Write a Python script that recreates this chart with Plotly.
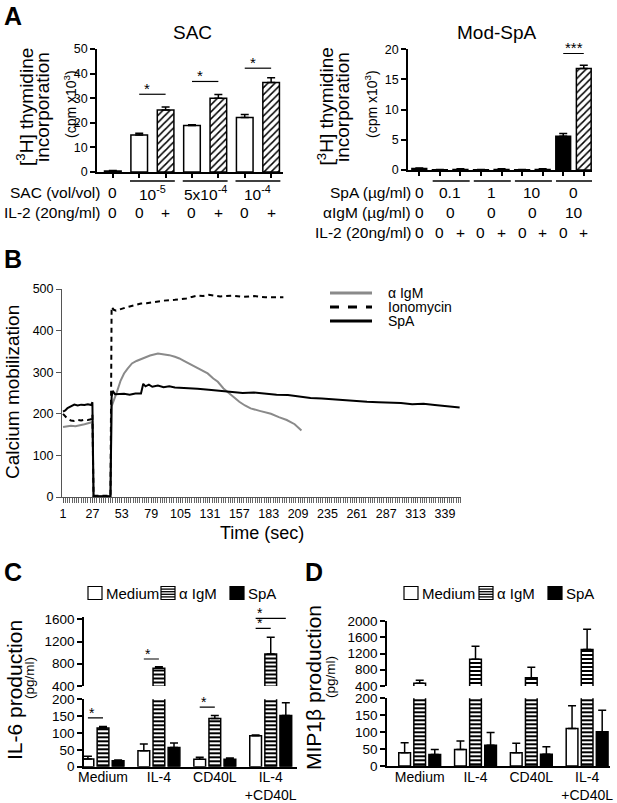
import plotly.graph_objects as go

W, H = 617, 803
FONT = "Arial, 'Liberation Sans', Helvetica, sans-serif"

def px(x):
    return x / W

def py(y):
    return 1 - y / H

# ---------------- Panel A data ----------------
sac_conc_labels = ["0", "10<sup>-5</sup>", "5x10<sup>-4</sup>", "10<sup>-4</sup>"]
sac_il2_labels = ["0", "0", "+", "0", "+", "0", "+"]
sac_values = [0.4, 15.0, 25.2, 18.9, 30.0, 22.2, 36.4]
sac_errors = [0.2, 0.8, 1.2, 0.3, 1.5, 1.2, 1.9]
sac_sig_levels = [31.6, 36.8, 42.2]

spa_conc_labels = ["0", "0.1", "1", "10", "0"]
spa_aigm_labels = ["0", "0", "0", "0", "10"]
spa_il2_labels = ["0", "0", "+", "0", "+", "0", "+", "0", "+"]
spa_values = [0.25, 0.05, 0.1, 0.05, 0.1, 0.05, 0.1, 5.6, 16.8]
spa_errors = [0.1, 0.05, 0.1, 0.05, 0.1, 0.05, 0.1, 0.45, 0.55]
spa_sig_level = 19.3

# ---------------- Panel B data ----------------
time_ticks = [1, 27, 53, 79, 105, 131, 157, 183, 209, 235, 261, 287, 313, 339]
aigm_t = [1, 4, 8, 12, 16, 20, 24, 27, 28, 30, 35, 40, 43, 44, 46, 49, 52, 55, 58, 62, 66,
          72, 78, 85, 90, 95, 100, 104, 108, 112, 118, 124, 129, 134, 138, 143, 150, 157,
          162, 167, 175, 185, 192, 199, 206, 212]
aigm_ca = [168, 170, 171, 170, 172, 175, 178, 180, 2, 2, 2, 2, 2, 218, 232, 255, 280, 297,
           308, 321, 327, 333, 340, 345, 343, 341, 337, 333, 327, 321, 313, 305, 297, 285,
           277, 261, 245, 229, 220, 213, 207, 200, 192, 185, 175, 160]
iono_t = [1, 3, 5, 8, 11, 14, 17, 20, 23, 26, 27, 28, 30, 35, 40, 43, 44, 46, 48, 52, 56,
          60, 65, 70, 75, 80, 90, 100, 110, 115, 120, 125, 130, 140, 150, 160, 170, 180,
          190, 196]
iono_ca = [200, 195, 188, 184, 183, 185, 184, 186, 185, 187, 198, 3, 3, 3, 3, 3, 457, 450,
           448, 452, 455, 458, 462, 465, 466, 468, 472, 474, 477, 481, 484, 483, 486, 482,
           484, 481, 483, 480, 481, 480]
spa_t = [1, 3, 5, 8, 11, 14, 17, 20, 23, 26, 27, 28, 30, 35, 40, 43, 44, 45, 47, 50, 55,
         60, 65, 70, 71, 72, 74, 77, 80, 85, 90, 95, 100, 110, 120, 130, 140, 150, 160, 170,
         180, 190, 200, 210, 220, 230, 240, 250, 260, 270, 280, 290, 300, 310, 320, 330,
         340, 350, 352]
spa_ca = [205, 208, 214, 219, 222, 220, 222, 221, 223, 221, 228, 2, 2, 2, 2, 2, 240, 255,
          247, 247, 248, 246, 249, 249, 258, 272, 266, 270, 265, 268, 264, 266, 263, 262,
          260, 258, 255, 253, 250, 251, 248, 246, 245, 241, 238, 237, 235, 232, 231, 229,
          228, 227, 226, 223, 224, 221, 219, 217, 215]

# ---------------- Panels C / D data ----------------
stim_groups = ["Medium", "IL-4", "CD40L", "IL-4<br>+CD40L"]
il6_medium = [23, 47, 22, 92]
il6_medium_err = [8, 20, 6, 2]
il6_aigm = [115, 718, 143, 976]
il6_aigm_err = [4, 30, 9, 300]
il6_spa = [18, 57, 22, 152]
il6_spa_err = [2, 13, 4, 38]

mip_medium = [39, 49, 39, 111]
mip_medium_err = [30, 25, 28, 67]
mip_aigm = [470, 1060, 600, 1300]
mip_aigm_err = [70, 320, 260, 500]
mip_spa = [34, 61, 35, 101]
mip_spa_err = [15, 38, 22, 64]

# significance in C: (group, from_series, to_series, level, part)
il6_sig = [(0, 0, 1, 145, "lower"), (1, 0, 1, 886, "upper"), (2, 0, 1, 177, "lower"),
           (3, 0, 1, 1438, "upper"), (3, 0, 2, 1618, "upper")]

fig = go.Figure()
shapes = []
annots = []

def ann(x, y, text, size=14, xanchor="center", yanchor="middle", xref="paper", yref="paper",
        angle=0, color="black", yshift=0):
    annots.append(dict(x=x, y=y, text=text, xref=xref, yref=yref, showarrow=False,
                       xanchor=xanchor, yanchor=yanchor, textangle=angle, yshift=yshift,
                       font=dict(size=size, color=color, family=FONT)))

def err(vals):
    return dict(type="data", array=vals, arrayminus=[0] * len(vals), symmetric=False,
                color="black", thickness=1.5, width=4)

HATCH = dict(shape="/", fgcolor="black", bgcolor="white", size=5, solidity=0.3)

# ---------- Panel A: SAC (split by IL-2) ----------
sac_x = list(range(len(sac_values)))
for flag in ("0", "+"):
    idx = [i for i, s in enumerate(sac_il2_labels) if s == flag]
    mk = dict(color="white", line=dict(color="black", width=1.5))
    if flag == "+":
        mk["pattern"] = HATCH
    fig.add_trace(go.Bar(
        x=[sac_x[i] for i in idx], y=[sac_values[i] for i in idx], width=0.63,
        xaxis="x", yaxis="y", marker=mk,
        error_y=err([sac_errors[i] for i in idx]), showlegend=False))

# ---------- Panel A: Mod-SpA (split by IL-2) ----------
spa_x = list(range(len(spa_values)))
aigm_per_bar = [spa_aigm_labels[0]] + [l for l in spa_aigm_labels[1:] for _ in (0, 1)]
for flag in ("0", "+"):
    idx = [i for i, s in enumerate(spa_il2_labels) if s == flag]
    if flag == "+":
        mk = dict(color="white", line=dict(color="black", width=1.5), pattern=HATCH)
    else:
        mk = dict(color=["black" if aigm_per_bar[i] == "10" else "white" for i in idx],
                  line=dict(color="black", width=1.5))
    fig.add_trace(go.Bar(
        x=[spa_x[i] for i in idx], y=[spa_values[i] for i in idx], width=0.72,
        xaxis="x2", yaxis="y2", marker=mk,
        error_y=err([spa_errors[i] for i in idx]), showlegend=False))

# ---------- Panel B ----------
fig.add_trace(go.Scatter(x=aigm_t, y=aigm_ca, mode="lines", xaxis="x3", yaxis="y3",
                         line=dict(color="#8a8a8a", width=2), showlegend=False))
fig.add_trace(go.Scatter(x=iono_t, y=iono_ca, mode="lines", xaxis="x3", yaxis="y3",
                         line=dict(color="black", width=2, dash="5px,4px"), showlegend=False))
fig.add_trace(go.Scatter(x=spa_t, y=spa_ca, mode="lines", xaxis="x3", yaxis="y3",
                         line=dict(color="black", width=2), showlegend=False))

# ---------- Panels C / D ----------
offsets = [-0.27, 0.0, 0.27]
styles = [
    dict(color="white", line=dict(color="black", width=1.5)),
    dict(color="white", line=dict(color="black", width=1.5),
         pattern=dict(shape="-", fgcolor="black", bgcolor="white", size=4, solidity=0.5)),
    dict(color="black", line=dict(color="black", width=1.5)),
]

def add_broken(series, errs, xa_low, ya_low, xa_up, ya_up):
    for s, (vals, e) in enumerate(zip(series, errs)):
        xs = [i + offsets[s] for i in range(len(vals))]
        for xa, ya in ((xa_low, ya_low), (xa_up, ya_up)):
            fig.add_trace(go.Bar(x=xs, y=vals, width=0.21, xaxis=xa, yaxis=ya,
                                 marker=styles[s], error_y=err(e), showlegend=False))

add_broken([il6_medium, il6_aigm, il6_spa], [il6_medium_err, il6_aigm_err, il6_spa_err],
           "x4", "y4", "x5", "y5")
add_broken([mip_medium, mip_aigm, mip_spa], [mip_medium_err, mip_aigm_err, mip_spa_err],
           "x6", "y6", "x7", "y7")

# ---------- axes ----------
def dom_x(a, b):
    return [px(a), px(b)]

def dom_y(p0, p1):
    return [py(p0), py(p1)]

base = dict(showline=True, linecolor="black", linewidth=1.5, showgrid=False, zeroline=False,
            ticks="outside", ticklen=5, tickwidth=1.5, tickcolor="black", automargin=False,
            tickfont=dict(size=12.5, family=FONT, color="black"))
cd_tick = dict(size=13.5, family=FONT, color="black")
cd_xtick = dict(size=14, family=FONT, color="black")

fig.update_layout(
    xaxis=dict(base, domain=dom_x(97, 283), range=[-0.6, 6.45], tickvals=sac_x,
               showticklabels=False, ticklen=4, anchor="y"),
    yaxis=dict(base, domain=dom_y(172, 49), range=[0, 50], tickvals=[0, 10, 20, 30, 40, 50],
               anchor="x"),
    xaxis2=dict(base, domain=dom_x(408, 592), range=[-0.55, 8.4], tickvals=spa_x,
                showticklabels=False, ticklen=4, anchor="y2"),
    yaxis2=dict(base, domain=dom_y(170, 49.3), range=[0, 20], tickvals=[0, 5, 10, 15, 20],
                anchor="x2"),
    xaxis3=dict(base, domain=dom_x(62, 461), range=[0.1, 353.2], tickvals=time_ticks,
                linecolor="#555", linewidth=1, tickcolor="#555", tickwidth=1, ticklen=5,
                tickfont=dict(size=12.5, family=FONT, color="black"),
                minor=dict(tickmode="linear", tick0=1, dtick=2, ticks="outside", ticklen=5,
                           tickwidth=1, tickcolor="#666"),
                anchor="y3"),
    yaxis3=dict(base, domain=dom_y(497, 289), range=[0, 500],
                tickvals=[0, 100, 200, 300, 400, 500], linecolor="#555", linewidth=1,
                tickcolor="#555", tickwidth=1, tickfont=dict(size=12.5, family=FONT, color="black"),
                anchor="x3"),
    xaxis4=dict(base, domain=dom_x(84, 297), range=[-0.34, 3.47], tickvals=[0, 1, 2, 3],
                ticktext=stim_groups, ticks="", tickfont=cd_xtick, ticklabelstandoff=-3,
                anchor="y4"),
    yaxis4=dict(base, domain=dom_y(766.7, 699.3), range=[0, 200],
                tickvals=[0, 50, 100, 150, 200], tickfont=cd_tick, anchor="x4"),
    xaxis5=dict(domain=dom_x(84, 297), range=[-0.34, 3.47], visible=False, anchor="y5",
                automargin=False),
    yaxis5=dict(base, domain=dom_y(686, 616.5), range=[400, 1650],
                tickvals=[400, 800, 1200, 1600], tickfont=cd_tick, anchor="x5"),
    xaxis6=dict(base, domain=dom_x(387, 610), range=[-0.586, 3.41], tickvals=[0, 1, 2, 3],
                ticktext=stim_groups, ticks="", tickfont=cd_xtick, ticklabelstandoff=-3,
                anchor="y6"),
    yaxis6=dict(base, domain=dom_y(766, 698.3), range=[0, 200],
                tickvals=[0, 50, 100, 150, 200], tickfont=cd_tick, anchor="x6"),
    xaxis7=dict(domain=dom_x(387, 610), range=[-0.586, 3.41], visible=False, anchor="y7",
                automargin=False),
    yaxis7=dict(base, domain=dom_y(686, 621), range=[400, 2000],
                tickvals=[400, 800, 1200, 1600, 2000], tickfont=cd_tick, anchor="x7"),
)

# ---------- Panel A annotations ----------
ann(px(2), py(0), "<b>A</b>", size=25, xanchor="left", yanchor="top")
ann(px(192), py(33), "SAC", size=19)
ann(px(497), py(33), "Mod-SpA", size=19)
for x1, x2, x3 in ((25, 43, 70), (325.5, 343, 371)):
    ann(px(x1), py(107), "[<sup>3</sup>H] thymidine", size=19, angle=-90)
    ann(px(x2), py(107), "incorporation", size=19, angle=-90)
    ann(px(x3), py(104), "(cpm x10<sup>3</sup>)", size=14, angle=-90)

# SAC significance
for k, lvl in enumerate(sac_sig_levels):
    i = 1 + 2 * k
    shapes.append(dict(type="line", xref="x", yref="y", x0=i, x1=i + 1, y0=lvl, y1=lvl,
                       line=dict(color="black", width=1.2)))
    ann(i + 0.3, lvl, "*", size=15, xref="x", yref="y", yanchor="middle", yshift=6)
# SAC brackets and rows
for k in range(3):
    i = 1 + 2 * k
    shapes.append(dict(type="line", xref="x", yref="paper", x0=i - 0.35, x1=i + 1.35,
                       y0=py(181), y1=py(181), line=dict(color="black", width=1.5)))
ann(px(102), py(193), "SAC (vol/vol)", size=15.5, xanchor="right")
ann(px(102), py(213), "IL-2 (20ng/ml)", size=15.5, xanchor="right")
sac_conc_pos = [0, 1.5, 3.5, 5.5]
for xv, t in zip(sac_conc_pos, sac_conc_labels):
    ann(xv, py(193), t, size=15.5, xref="x")
for xv, t in zip(sac_x, sac_il2_labels):
    ann(xv, py(213), t, size=15.5, xref="x")

# Mod-SpA significance
shapes.append(dict(type="line", xref="x2", yref="y2", x0=7, x1=8, y0=spa_sig_level,
                   y1=spa_sig_level, line=dict(color="black", width=1.2)))
ann(7.5, spa_sig_level, "***", size=15, xref="x2", yref="y2", yanchor="middle", yshift=6)
for k in range(4):
    i = 1 + 2 * k
    shapes.append(dict(type="line", xref="x2", yref="paper", x0=i - 0.35, x1=i + 1.45,
                       y0=py(181), y1=py(181), line=dict(color="black", width=1.5)))
ann(px(413), py(193), "SpA (µg/ml)", size=15.5, xanchor="right")
ann(px(413), py(213), "αIgM (µg/ml)", size=15.5, xanchor="right")
ann(px(413), py(232), "IL-2 (20ng/ml)", size=15.5, xanchor="right")
spa_group_pos = [0, 1.5, 3.5, 5.5, 7.5]
for xv, t in zip(spa_group_pos, spa_conc_labels):
    ann(xv, py(193), t, size=15.5, xref="x2")
for xv, t in zip(spa_group_pos, spa_aigm_labels):
    ann(xv, py(213), t, size=15.5, xref="x2")
for xv, t in zip(spa_x, spa_il2_labels):
    ann(xv, py(232), t, size=15.5, xref="x2")

# ---------- Panel B annotations ----------
ann(px(2), py(243), "<b>B</b>", size=25, xanchor="left", yanchor="top")
ann(px(13), py(392), "Calcium mobilization", size=19, angle=-90)
ann(px(262), py(533), "Time (sec)", size=18)
leg_b = [("α IgM", "#8a8a8a", "solid", 293), ("Ionomycin", "black", "dash", 307),
         ("SpA", "black", "solid", 321)]
for name, col, dash, yy in leg_b:
    shapes.append(dict(type="line", xref="paper", yref="paper", x0=px(330), x1=px(372),
                       y0=py(yy), y1=py(yy), line=dict(color=col, width=3, dash=dash)))
    ann(px(386), py(yy), name, size=14, xanchor="left")

# ---------- Panels C / D annotations ----------
ann(px(2), py(556), "<b>C</b>", size=25, xanchor="left", yanchor="top")
ann(px(303), py(556), "<b>D</b>", size=25, xanchor="left", yanchor="top")
ann(px(14), py(690), "IL-6 production", size=21, angle=-90)
ann(px(29), py(678), "(pg/ml)", size=13.5, angle=-90)
ann(px(313), py(688), "MIP1β production", size=21, angle=-90)
ann(px(330), py(677), "(pg/ml)", size=13.5, angle=-90)

def legend_row(x_white, x_stripe, x_black, y_c):
    bw, bh = 14, 13
    for kind, x0, label in (("white", x_white, "Medium"), ("stripe", x_stripe, "α IgM"),
                            ("black", x_black, "SpA")):
        shapes.append(dict(type="rect", xref="paper", yref="paper", x0=px(x0), x1=px(x0 + bw),
                           y0=py(y_c + bh / 2), y1=py(y_c - bh / 2),
                           fillcolor="black" if kind == "black" else "white",
                           line=dict(color="black", width=1.2)))
        if kind == "stripe":
            for j in range(1, 5):
                yy = y_c - bh / 2 + j * bh / 5
                shapes.append(dict(type="line", xref="paper", yref="paper", x0=px(x0),
                                   x1=px(x0 + bw), y0=py(yy), y1=py(yy),
                                   line=dict(color="black", width=1.3)))
        ann(px(x0 + bw + 2), py(y_c), label, size=15, xanchor="left")

legend_row(88, 161, 230, 593)
legend_row(404, 479, 548, 593)

for g, s0, s1, lvl, part in il6_sig:
    xr, yr = ("x4", "y4") if part == "lower" else ("x5", "y5")
    xa0 = g + offsets[s0]
    xa1 = g + offsets[s1]
    shapes.append(dict(type="line", xref=xr, yref=yr, x0=xa0, x1=xa1, y0=lvl, y1=lvl,
                       line=dict(color="black", width=1.2)))
    ann(xa0 + 0.08, lvl, "*", size=14, xref=xr, yref=yr, yanchor="middle", yshift=5)

fig.update_layout(
    template="none",
    width=W, height=H, margin=dict(l=0, r=0, t=0, b=0, pad=0, autoexpand=False),
    paper_bgcolor="white", plot_bgcolor="rgba(0,0,0,0)",
    barmode="overlay", showlegend=False,
    font=dict(family=FONT, color="black"),
    shapes=shapes, annotations=annots,
)

fig.write_html(
    "out.html", include_plotlyjs=True, config={"displayModeBar": False},
    post_script="document.body.style.margin='0px';document.body.style.padding='0px';"
                "document.body.style.overflow='hidden';",
)
